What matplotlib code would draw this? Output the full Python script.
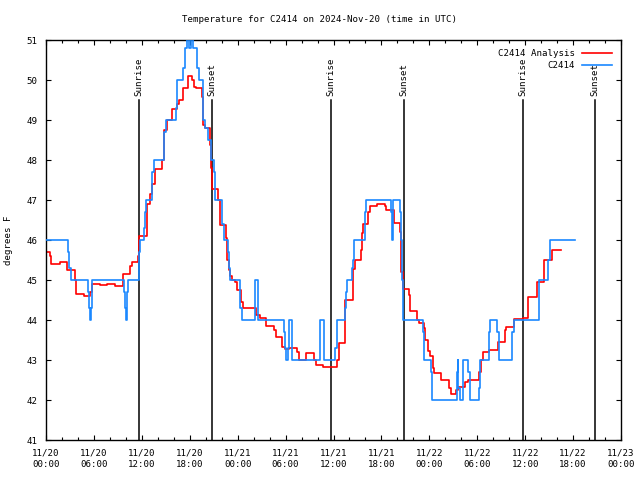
import matplotlib
matplotlib.use("Agg")
import matplotlib.pyplot as plt

# hours after 2024-11-20 00:00 UTC
red_hours = [0, 0.5, 0.6, 1.7, 2.6, 3.6, 3.8, 4.7, 5.5, 5.7,
             6.7, 7.6, 8.6, 9.6, 10.5, 10.8, 11.55, 11.65, 12.7, 13.0,
             13.3, 13.6, 14.5, 14.75, 15.1, 15.75, 16.4, 16.7, 17.2, 17.75,
             18.33, 18.5, 18.8, 19.5, 19.6, 19.9, 20.5, 20.6, 20.75, 21.55,
             21.75, 22.5, 22.66, 22.9, 23.1, 23.3, 23.7, 23.96, 24.4, 24.7,
             26.25, 26.75, 27.6, 28.6, 28.8, 29.6, 29.9, 30.4, 31.4, 31.7,
             32.6, 33.6, 33.75, 34.7, 36.4, 36.7, 37.4, 37.5, 38.4, 38.75,
             39.5, 39.6, 39.75, 40.3, 40.6, 41.5, 42.4, 42.6, 43.6, 44.3,
             44.5, 44.75, 45.4, 45.6, 46.4, 46.7, 47.3, 47.5, 47.8, 48.1,
             48.4, 48.6, 49.5, 50.5, 50.7, 51.4, 51.6, 52.5, 52.8, 54.25,
             54.5, 54.7, 55.5, 56.6, 57.5, 57.6, 58.6, 59.7, 60.4, 61.5,
             62.4, 63.3, 64.5]
red_temps = [45.7, 45.6, 45.4, 45.45, 45.25, 45.0, 44.65, 44.6, 44.7, 44.9,
             44.87, 44.9, 44.85, 45.15, 45.35, 45.45, 45.6, 46.1, 46.9, 47.15,
             47.4, 47.77, 48.0, 48.75, 49.0, 49.27, 49.4, 49.5, 49.8, 50.1,
             50.0, 49.83, 49.8, 49.58, 48.88, 48.8, 48.38, 47.8, 47.27, 47.0,
             46.37, 46.04, 45.5, 45.25, 45.1, 45.0, 44.95, 44.75, 44.46, 44.31,
             44.12, 44.05, 43.86, 43.75, 43.58, 43.33, 43.27, 43.3, 43.2, 43.0,
             43.17, 43.0, 42.875, 42.83, 43.0, 43.43, 44.25, 44.5, 45.27, 45.5,
             45.75, 46.17, 46.4, 46.7, 46.85, 46.9, 46.85, 46.75, 46.43, 46.2,
             45.2, 44.77, 44.62, 44.22, 44.0, 43.92, 43.8, 43.5, 43.23, 43.1,
             42.8, 42.67, 42.5, 42.3, 42.15, 42.25, 42.33, 42.46, 42.5, 42.7,
             43.0, 43.2, 43.25, 43.46, 43.75, 43.83, 44.03, 44.05, 44.58, 44.96,
             45.5, 45.75, 45.75]

obs_hours = [0, 2.8, 2.9, 3.1, 5.3, 5.4, 5.5, 5.65, 5.7, 5.8,
             9.75, 9.85, 10.0, 10.15, 10.2, 10.25, 11.6, 11.7, 11.8, 12.3,
             12.45, 12.55, 13.3, 13.5, 14.75, 15.0, 16.25, 16.4, 17.15, 17.4,
             17.6, 17.9, 18.1, 18.35, 18.85, 19.2, 19.7, 19.95, 20.3, 20.6,
             21.0, 21.1, 21.2, 22.0, 22.1, 22.3, 22.8, 22.9, 23.1, 24.3,
             24.6, 26.2, 26.6, 29.8, 29.9, 30.0, 30.35, 30.45, 30.8, 34.35,
             34.75, 36.15, 36.4, 37.45, 37.55, 37.65, 38.3, 38.45, 38.6, 39.9,
             40.0, 40.1, 43.2, 43.3, 43.35, 43.45, 44.35, 44.45, 44.55, 44.75,
             47.2, 47.35, 48.2, 48.3, 51.5, 51.55, 51.65, 51.8, 52.2, 52.9,
             53.1, 54.25, 54.3, 55.5, 55.6, 56.5, 56.7, 58.4, 58.6, 61.7,
             62.9, 63.05, 66.2]
obs_temps = [46.0, 45.7, 45.3, 45.0, 44.7, 44.3, 44.0, 44.3, 44.7, 45.0,
             44.7, 44.3, 44.0, 44.3, 44.7, 45.0, 45.3, 45.7, 46.0, 46.3,
             46.7, 47.0, 47.7, 48.0, 48.7, 49.0, 49.3, 50.0, 50.3, 50.8,
             51.5, 50.8, 51.5, 50.8, 50.3, 50.0, 49.0, 48.8, 48.5, 48.0,
             47.7, 47.3, 47.0, 46.7, 46.4, 46.0, 45.7, 45.3, 45.0, 44.3,
             44.0, 45.0, 44.0, 43.7, 43.3, 43.0, 43.3, 44.0, 43.0, 44.0,
             43.0, 43.3, 44.0, 44.3, 44.7, 45.0, 45.3, 45.5, 46.0, 46.4,
             46.7, 47.0, 46.7, 46.3, 46.0, 47.0, 46.7, 46.0, 45.0, 44.0,
             43.7, 43.0, 42.7, 42.0, 42.7, 43.0, 42.3, 42.0, 43.0, 42.7,
             42.0, 42.3, 43.0, 43.7, 44.0, 43.7, 43.0, 43.7, 44.0, 45.0,
             45.5, 46.0, 46.0]

sun_hours = [11.67, 20.78, 35.68, 44.78, 59.70, 68.78]
sun_names = ["Sunrise", "Sunset", "Sunrise", "Sunset", "Sunrise", "Sunset"]

tick_hours = list(range(0, 73, 6))
tick_labels = ["11/20\n00:00", "11/20\n06:00", "11/20\n12:00", "11/20\n18:00",
               "11/21\n00:00", "11/21\n06:00", "11/21\n12:00", "11/21\n18:00",
               "11/22\n00:00", "11/22\n06:00", "11/22\n12:00", "11/22\n18:00",
               "11/23\n00:00"]

plt.rcParams['font.family'] = ['DejaVu Sans Mono']
plt.rcParams['font.size'] = 6.6

fig = plt.figure(figsize=(6.4, 4.8), dpi=100)
ax = fig.add_axes([46 / 640, 40 / 480, 575 / 640, 400 / 480])

# sunrise / sunset markers
for t, name in zip(sun_hours, sun_names):
    ax.plot([t, t], [41, 49.5], color='black', lw=1.1, zorder=1)
    ax.text(t, 49.6, name, rotation=90, ha='center', va='bottom')

ax.step(red_hours, red_temps, where='post', color='#ff0000', lw=1.2,
        label='C2414 Analysis', zorder=2)
ax.step(obs_hours, obs_temps, where='post', color='#1a88ff', lw=1.2,
        label='C2414', zorder=3)

ax.set_xlim(0, 72)
ax.set_ylim(41, 51)
ax.set_xticks(tick_hours)
ax.set_xticklabels(tick_labels, linespacing=1.45)
ax.set_xticks(range(0, 73, 2), minor=True)
ax.set_yticks(range(41, 52))
ax.tick_params(direction='in', top=True, right=True, length=3.5, width=0.8, pad=6)
ax.tick_params(axis='x', which='minor', direction='in', top=True, length=2.2, width=0.8)
for s in ax.spines.values():
    s.set_linewidth(1.0)

ax.set_ylabel('degrees F')
ax.yaxis.set_label_coords(-33 / 575, 0.5)

ax.legend(loc='upper right', frameon=False, markerfirst=False, handlelength=3.3,
          handletextpad=0.7, labelspacing=0.35, borderaxespad=0.6)

fig.text(0.5, 1 - 19 / 480, 'Temperature for C2414 on 2024-Nov-20 (time in UTC)',
         ha='center', va='center')

fig.savefig('out.png', dpi=100)
